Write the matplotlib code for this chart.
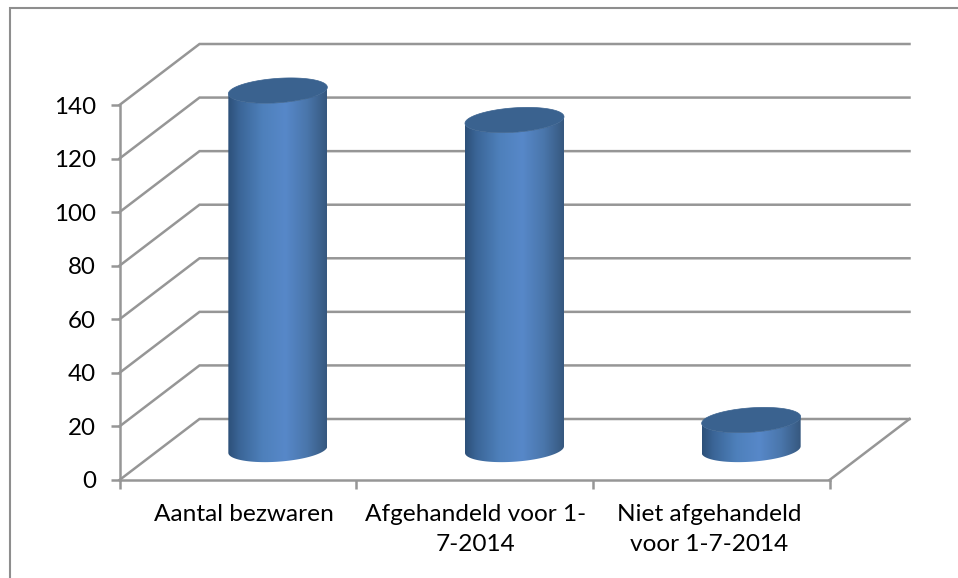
import numpy as np
import matplotlib
matplotlib.use("Agg")
import matplotlib.pyplot as plt
from matplotlib.colors import LinearSegmentedColormap
from matplotlib.lines import Line2D
from matplotlib.patches import Polygon

categories = ["Aantal bezwaren", "Afgehandeld voor 1-\n7-2014", "Niet afgehandeld\nvoor 1-7-2014"]
values = [134, 123, 11]
value_ticks = [0, 20, 40, 60, 80, 100, 120, 140]

W, H = 958, 578
GRID = "#969696"
LW = 1.8
FONT = "Lato"

plt.rcParams["font.family"] = [FONT, "DejaVu Sans"]
fig = plt.figure(figsize=(W / 100, H / 100), dpi=100, facecolor="white")
ax = fig.add_axes([119.5 / W, (H - 480) / H, 710 / W, 375 / H])
ax.set_xlim(0, 3)
ax.set_ylim(0, 140)
ax.patch.set_alpha(0)

# Scale factors between pixels and data units on the front plane
px_x = 3 / 710
px_y = 140 / 375
depth_x = 80 * px_x
depth_y = 61 * px_y

# Back wall grid and side-wall diagonals
for v in value_ticks:
    ax.plot([0, depth_x, 3 + depth_x], [v, v + depth_y, v + depth_y],
            color=GRID, lw=LW, clip_on=False, zorder=1, solid_joinstyle="miter")
# Floor outline, right-hand edge
ax.plot([3, 3 + depth_x], [0, depth_y], color=GRID, lw=LW, clip_on=False, zorder=1)

# Axis frame
for side in ("top", "right"):
    ax.spines[side].set_visible(False)
for side in ("left", "bottom"):
    ax.spines[side].set_color(GRID)
    ax.spines[side].set_linewidth(LW)
    ax.spines[side].set_zorder(1.5)

ax.set_yticks(value_ticks)
ax.set_xticks([0, 1, 2, 3])
ax.set_xticklabels([])
ax.set_xticks([0.525, 1.505, 2.49], minor=True)
ax.set_xticklabels(categories, minor=True, fontsize=17.6, color="black", linespacing=1.53)
ax.tick_params(axis="x", which="major", length=6.5, width=LW, color=GRID)
ax.tick_params(axis="x", which="minor", length=0, pad=17)
ax.tick_params(axis="y", length=6.5, width=LW, color=GRID, labelsize=17.4, labelcolor="black", pad=10.5)

# Horizontal shading across each cylinder body
shade = LinearSegmentedColormap.from_list("cyl", [
    (0.00, "#2d5079"), (0.12, "#3b6698"), (0.35, "#4e80bb"),
    (0.58, "#5788c9"), (0.80, "#4a76ab"), (1.00, "#36587f"),
])
gradient = np.linspace(0, 1, 256).reshape(1, -1)

half_w = 49.5 * px_x
semi_b = 12.2 * px_y
shear = 3.3 * px_y
t = np.linspace(0, 2 * np.pi, 181)


def rim(cx, cy, angles):
    """Points on a slightly tilted ellipse around (cx, cy) in data units."""
    return cx + half_w * np.cos(angles), cy + semi_b * np.sin(angles) + shear * np.cos(angles)


for i, val in enumerate(values):
    cx = i + 0.5 + depth_x / 2
    base = depth_y / 2
    top = base + val

    # Body outline: top rim's near half, then the bottom rim's near half
    near = np.linspace(0, -np.pi, 91)
    bx, by = rim(cx, base, near)
    tx, ty = rim(cx, top, near[::-1])
    pts = np.column_stack([np.r_[bx, tx], np.r_[by, ty]])
    body = Polygon(pts, closed=True, transform=ax.transData, facecolor="none", edgecolor="none")
    ax.add_patch(body)
    img = ax.imshow(gradient, cmap=shade, aspect="auto", interpolation="bilinear",
                    extent=(cx - half_w, cx + half_w, -20, top + 20), zorder=3)
    img.set_clip_path(body)
    img.set_clip_box(fig.bbox)

    # Top cap
    ex, ey = rim(cx, top, t)
    ax.fill(ex, ey, color="#3a628f", lw=0.5, zorder=4, clip_on=False)

ax.set_xlim(0, 3)
ax.set_ylim(0, 140)

# Chart-area border along the upper and left sides
fig.add_artist(Line2D([9.5 / W, 9.5 / W, 1], [0, 1 - 7.5 / H, 1 - 7.5 / H],
                      color="#8e8e8e", lw=1.5, solid_joinstyle="miter"))

fig.savefig("out.png", dpi=100)
